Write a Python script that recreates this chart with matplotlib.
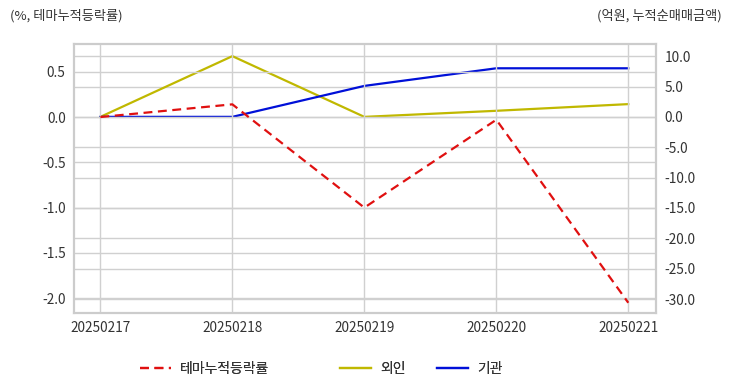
import numpy as np
import matplotlib
matplotlib.use("Agg")
import matplotlib.pyplot as plt

plt.rcParams['font.family'] = ['Noto Sans CJK KR', 'DejaVu Sans']

dates = ["20250217", "20250218", "20250219", "20250220", "20250221"]
theme_rate = [0.0, 0.14, -1.0, -0.03, -2.05]
foreign = [0.0, 10.0, 0.0, 1.0, 2.1]
institution = [0.0, 0.0, 5.1, 8.0, 8.0]

grid_c = "#d0d0d0"
text_c = "#333333"

fig = plt.figure(figsize=(7.32, 3.92), dpi=100)
ax = fig.add_axes([74/732, 1-313/392, (656-74)/732, (313-44)/392])
ax2 = ax.twinx()

x = np.arange(len(dates))
l1, = ax.plot(x, theme_rate, color="#e01010", ls=(0, (4, 2.5)), lw=1.6, label="테마누적등락률")
l2, = ax2.plot(x, foreign, color="#c0b800", lw=1.6, label="외인")
l3, = ax2.plot(x, institution, color="#0010d8", lw=1.6, label="기관")

ax.set_xlim(-0.2, 4.21)
ax.set_ylim(-2.163, 0.806)
ax2.set_ylim(-32.3, 12.0)
ax.set_xticks(x)
ax.set_xticklabels(dates)
ax.set_yticks([0.5, 0.0, -0.5, -1.0, -1.5, -2.0])
ax.set_yticklabels(["0.5", "0.0", "-0.5", "-1.0", "-1.5", "-2.0"])
ax2.set_yticks([10, 5, 0, -5, -10, -15, -20, -25, -30])
ax2.set_yticklabels(["10.0", "5.0", "0.0", "-5.0", "-10.0", "-15.0", "-20.0", "-25.0", "-30.0"])

ax.grid(True, color=grid_c, lw=1)
ax2.grid(True, axis="y", color=grid_c, lw=1)
ax.set_axisbelow(True)
ax2.set_axisbelow(True)
ax.set_zorder(ax2.get_zorder() + 1)
ax.patch.set_visible(False)

for a in (ax, ax2):
    a.tick_params(length=0, labelsize=9.8, colors=text_c, pad=6)
    for s in a.spines.values():
        s.set_color("#cccccc")
        s.set_linewidth(1.5)

fig.text(10/732, 1-16/392, "(%, 테마누적등락률)", fontsize=9.5, color=text_c, va="center", ha="left")
fig.text(722/732, 1-16/392, "(억원, 누적순매매금액)", fontsize=9.5, color=text_c, va="center", ha="right")

# legend items placed one by one (uneven spacing in the original)
for h, xpos in [(l1, 140), (l2, 340), (l3, 437)]:
    leg = fig.legend(handles=[h], loc="center left", bbox_to_anchor=(xpos/732, 1-369/392),
                     frameon=False, fontsize=10, handlelength=2.2, handletextpad=0.7,
                     borderaxespad=0, borderpad=0, labelcolor=text_c)
    fig.add_artist(leg)

fig.savefig("out.png", dpi=100)
